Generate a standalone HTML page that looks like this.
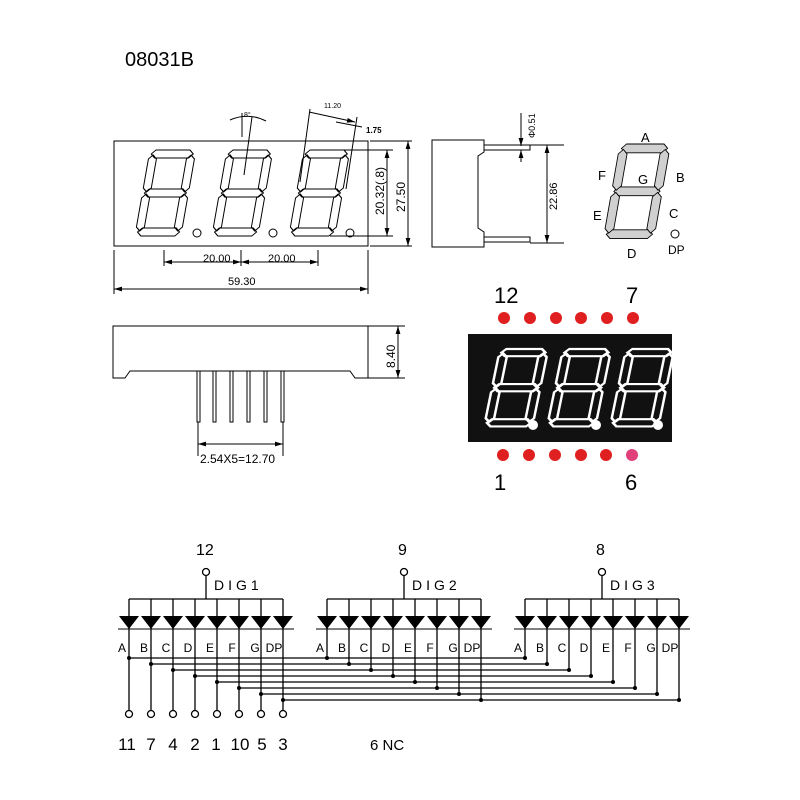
<!DOCTYPE html>
<html><head><meta charset="utf-8"><style>
html,body{margin:0;padding:0;background:#fff;}
svg{display:block;font-family:"Liberation Sans",sans-serif;}
</style></head><body>
<svg width="800" height="800" viewBox="0 0 800 800" xmlns="http://www.w3.org/2000/svg">
<defs>
<g id="dg">
<polygon points="2,4 6,0 40,0 44,4 40,8 6,8"/>
<polygon points="2,43 6,39 40,39 44,43 40,47 6,47"/>
<polygon points="2,82 6,78 40,78 44,82 40,86 6,86"/>
<polygon points="4,5 8,9 8,38 4,42 0,38 0,9"/>
<polygon points="42,5 46,9 46,38 42,42 38,38 38,9"/>
<polygon points="4,44 8,48 8,77 4,81 0,77 0,48"/>
<polygon points="42,44 46,48 46,77 42,81 38,77 38,48"/>
</g>
<marker id="ar" viewBox="0 0 10 6" refX="10" refY="3" markerWidth="8" markerHeight="5" orient="auto-start-reverse"><path d="M0,0 L10,3 L0,6 z" fill="#000"/></marker>
</defs>
<text x="125" y="66" font-size="20">08031B</text>

<!-- front view -->
<rect x="114" y="141" width="254" height="105" fill="none" stroke="#000"/>
<g fill="none" stroke="#000" stroke-width="1">
<use href="#dg" transform="translate(150,150) skewX(-10)"/>
<use href="#dg" transform="translate(227,150) skewX(-10)"/>
<use href="#dg" transform="translate(304,150) skewX(-10)"/>
<circle cx="197" cy="233" r="4"/><circle cx="273" cy="233" r="4"/><circle cx="350" cy="233" r="4"/>
</g>
<g stroke="#000" fill="none" stroke-width="1">
<line x1="164" y1="250" x2="164" y2="266"/><line x1="241" y1="250" x2="241" y2="266"/><line x1="318" y1="250" x2="318" y2="266"/>
<line x1="164" y1="262" x2="241" y2="262" marker-start="url(#ar)" marker-end="url(#ar)"/>
<line x1="241" y1="262" x2="318" y2="262" marker-start="url(#ar)" marker-end="url(#ar)"/>
<line x1="114" y1="250" x2="114" y2="294"/><line x1="368" y1="250" x2="368" y2="294"/>
<line x1="114" y1="289" x2="368" y2="289" marker-start="url(#ar)" marker-end="url(#ar)"/>
<line x1="340" y1="150" x2="393" y2="150"/><line x1="330" y1="236" x2="393" y2="236"/>
<line x1="387" y1="150" x2="387" y2="236" marker-start="url(#ar)" marker-end="url(#ar)"/>
<line x1="370" y1="141" x2="412" y2="141"/><line x1="370" y1="246" x2="412" y2="246"/>
<line x1="408" y1="141" x2="408" y2="246" marker-start="url(#ar)" marker-end="url(#ar)"/>
<line x1="242" y1="113" x2="242" y2="137"/><line x1="252" y1="117" x2="244" y2="175"/>
<path d="M230,120 Q248,112 266,121"/>
<line x1="310" y1="109" x2="300" y2="182"/><line x1="357" y1="117" x2="346" y2="189"/>
<line x1="309" y1="112" x2="355" y2="122" marker-end="url(#ar)"/>
<line x1="336" y1="122" x2="362" y2="127"/>
</g>
<g font-size="10">
<text x="203" y="262" font-size="11">20.00</text><text x="268" y="262" font-size="11">20.00</text>
<text x="228" y="285" font-size="11">59.30</text>
<text x="324" y="108" font-size="7">11.20</text>
<text x="366" y="133" font-size="8" font-weight="bold">1.75</text>
<text x="244" y="117" font-size="7">8°</text>
<text transform="translate(384,215) rotate(-90)" font-size="12">20.32(.8)</text>
<text transform="translate(405,212) rotate(-90)" font-size="12">27.50</text>
</g>

<!-- side view -->
<g stroke="#000" fill="none">
<path d="M432,140 H484 V152 L478,156 V228 L484,232 V247 H432 Z"/>
<path d="M484,145 H530 V150 H484"/><path d="M484,237 H530 V242 H484"/>
<line x1="530" y1="145" x2="564" y2="145"/><line x1="530" y1="243" x2="564" y2="243"/>
<line x1="547" y1="145" x2="547" y2="243" marker-start="url(#ar)" marker-end="url(#ar)"/>
<line x1="521" y1="113" x2="521" y2="146" marker-end="url(#ar)"/>
<line x1="521" y1="162" x2="521" y2="150" marker-end="url(#ar)"/>
</g>
<text transform="translate(557,210) rotate(-90)" font-size="11">22.86</text>
<text transform="translate(535,138) rotate(-90)" font-size="9">Φ0.51</text>

<!-- segment diagram -->
<g fill="#d0d0d0" stroke="#000" stroke-width="0.8">
<use href="#dg" transform="translate(620,144) scale(1.1,1.1) skewX(-10)"/>
</g>
<circle cx="675" cy="234" r="4" fill="none" stroke="#000"/>
<g font-size="13">
<text x="641" y="142">A</text><text x="598" y="180">F</text><text x="638" y="184">G</text>
<text x="676" y="182">B</text><text x="593" y="220">E</text><text x="669" y="218">C</text>
<text x="627" y="258">D</text><text x="668" y="254" font-size="12">DP</text>
</g>

<!-- bottom view -->
<g stroke="#000" fill="none">
<path d="M113,326 H368 V378 H355 L350,371 H130 L125,378 H113 Z"/>
<line x1="368" y1="326" x2="405" y2="326"/><line x1="368" y1="378" x2="405" y2="378"/>
<line x1="398" y1="326" x2="398" y2="378" marker-start="url(#ar)" marker-end="url(#ar)"/>
<rect x="197" y="371" width="3" height="51"/><rect x="213" y="371" width="3" height="51"/>
<rect x="230" y="371" width="3" height="51"/><rect x="247" y="371" width="3" height="51"/>
<rect x="264" y="371" width="3" height="51"/><rect x="281" y="371" width="3" height="51"/>
<line x1="198" y1="422" x2="198" y2="456"/><line x1="283" y1="422" x2="283" y2="456"/>
<line x1="198" y1="444" x2="283" y2="444" marker-start="url(#ar)" marker-end="url(#ar)"/>
</g>
<text x="200" y="463" font-size="12">2.54X5=12.70</text>
<text transform="translate(395,368) rotate(-90)" font-size="12">8.40</text>

<!-- red display -->
<rect x="468" y="334" width="204" height="108" fill="#111"/>
<g fill="none" stroke="#fff" stroke-width="2.4">
<use href="#dg" transform="translate(500,349) scale(1.05,0.9) skewX(-10)"/>
<use href="#dg" transform="translate(563,349) scale(1.05,0.9) skewX(-10)"/>
<use href="#dg" transform="translate(626,349) scale(1.05,0.9) skewX(-10)"/>
</g>
<g fill="#fff"><circle cx="533" cy="425" r="5"/><circle cx="596" cy="425" r="5"/><circle cx="658" cy="425" r="5"/></g>
<g fill="#e02020">
<circle cx="504" cy="318" r="6"/><circle cx="530" cy="318" r="6"/><circle cx="556" cy="318" r="6"/><circle cx="581" cy="318" r="6"/><circle cx="607" cy="318" r="6"/><circle cx="633" cy="318" r="6"/>
<circle cx="503" cy="455" r="6"/><circle cx="529" cy="455" r="6"/><circle cx="555" cy="455" r="6"/><circle cx="581" cy="455" r="6"/><circle cx="606" cy="455" r="6"/>
</g>
<circle cx="632" cy="455" r="6" fill="#e0407a"/>
<g font-size="22"><text x="494" y="303">12</text><text x="626" y="303">7</text><text x="494" y="490">1</text><text x="625" y="490">6</text></g>

<!-- schematic -->
<g font-size="16"><text x="196" y="555">12</text><text x="398" y="555">9</text><text x="596" y="555">8</text></g>
<g font-size="14" letter-spacing="4"><text x="214" y="590">DIG1</text><text x="412" y="590">DIG2</text><text x="610" y="590">DIG3</text></g>
<g stroke="#000" fill="none" stroke-width="1.3">
<circle cx="206" cy="572" r="3.5" fill="#fff"/><line x1="206" y1="576" x2="206" y2="599"/>
<circle cx="404" cy="572" r="3.5" fill="#fff"/><line x1="404" y1="576" x2="404" y2="599"/>
<circle cx="602" cy="572" r="3.5" fill="#fff"/><line x1="602" y1="576" x2="602" y2="599"/>
<line x1="129" y1="599" x2="283" y2="599"/><line x1="327" y1="599" x2="481" y2="599"/><line x1="525" y1="599" x2="679" y2="599"/>
<path d="M129,599V710 M151,599V710 M173,599V710 M195,599V710 M217,599V710 M239,599V710 M261,599V710 M283,599V710"/>
<path d="M327,599V658 M349,599V664 M371,599V670 M393,599V676 M415,599V682 M437,599V688 M459,599V694 M481,599V700"/>
<path d="M525,599V658 M547,599V664 M569,599V670 M591,599V676 M613,599V682 M635,599V688 M657,599V694 M679,599V700"/>
<path d="M129,658H525 M151,664H547 M173,670H569 M195,676H591 M217,682H613 M239,688H635 M261,694H657 M283,700H679"/>
<g fill="#fff">
<circle cx="129" cy="714" r="3.5"/><circle cx="151" cy="714" r="3.5"/><circle cx="173" cy="714" r="3.5"/><circle cx="195" cy="714" r="3.5"/>
<circle cx="217" cy="714" r="3.5"/><circle cx="239" cy="714" r="3.5"/><circle cx="261" cy="714" r="3.5"/><circle cx="283" cy="714" r="3.5"/>
</g>
<path stroke-width="1" d="M118,629H294 M316,629H492 M514,629H690"/>
</g>
<g fill="#000">
<path d="M119,616H139L129,629Z M141,616H161L151,629Z M163,616H183L173,629Z M185,616H205L195,629Z M207,616H227L217,629Z M229,616H249L239,629Z M251,616H271L261,629Z M273,616H293L283,629Z"/>
<path d="M317,616H337L327,629Z M339,616H359L349,629Z M361,616H381L371,629Z M383,616H403L393,629Z M405,616H425L415,629Z M427,616H447L437,629Z M449,616H469L459,629Z M471,616H491L481,629Z"/>
<path d="M515,616H535L525,629Z M537,616H557L547,629Z M559,616H579L569,629Z M581,616H601L591,629Z M603,616H623L613,629Z M625,616H645L635,629Z M647,616H667L657,629Z M669,616H689L679,629Z"/>
<circle cx="129" cy="658" r="2"/><circle cx="151" cy="664" r="2"/><circle cx="173" cy="670" r="2"/><circle cx="195" cy="676" r="2"/><circle cx="217" cy="682" r="2"/><circle cx="239" cy="688" r="2"/><circle cx="261" cy="694" r="2"/><circle cx="283" cy="700" r="2"/>
<circle cx="327" cy="658" r="2"/><circle cx="349" cy="664" r="2"/><circle cx="371" cy="670" r="2"/><circle cx="393" cy="676" r="2"/><circle cx="415" cy="682" r="2"/><circle cx="437" cy="688" r="2"/><circle cx="459" cy="694" r="2"/><circle cx="481" cy="700" r="2"/>
<circle cx="525" cy="658" r="2"/><circle cx="547" cy="664" r="2"/><circle cx="569" cy="670" r="2"/><circle cx="591" cy="676" r="2"/><circle cx="613" cy="682" r="2"/><circle cx="635" cy="688" r="2"/><circle cx="657" cy="694" r="2"/><circle cx="679" cy="700" r="2"/>
</g>
<g font-size="12" text-anchor="middle">
<text x="122" y="652">A</text><text x="144" y="652">B</text><text x="166" y="652">C</text><text x="188" y="652">D</text><text x="210" y="652">E</text><text x="232" y="652">F</text><text x="255" y="652">G</text><text x="274" y="652">DP</text>
<text x="320" y="652">A</text><text x="342" y="652">B</text><text x="364" y="652">C</text><text x="386" y="652">D</text><text x="408" y="652">E</text><text x="430" y="652">F</text><text x="453" y="652">G</text><text x="472" y="652">DP</text>
<text x="518" y="652">A</text><text x="540" y="652">B</text><text x="562" y="652">C</text><text x="584" y="652">D</text><text x="606" y="652">E</text><text x="628" y="652">F</text><text x="651" y="652">G</text><text x="670" y="652">DP</text>
</g>
<g font-size="17" text-anchor="middle">
<text x="127" y="750">11</text><text x="151" y="750">7</text><text x="173" y="750">4</text><text x="195" y="750">2</text><text x="216" y="750">1</text><text x="240" y="750">10</text><text x="262" y="750">5</text><text x="283" y="750">3</text>
</g>
<text x="370" y="750" font-size="15">6 NC</text>
</svg>
</body></html>
